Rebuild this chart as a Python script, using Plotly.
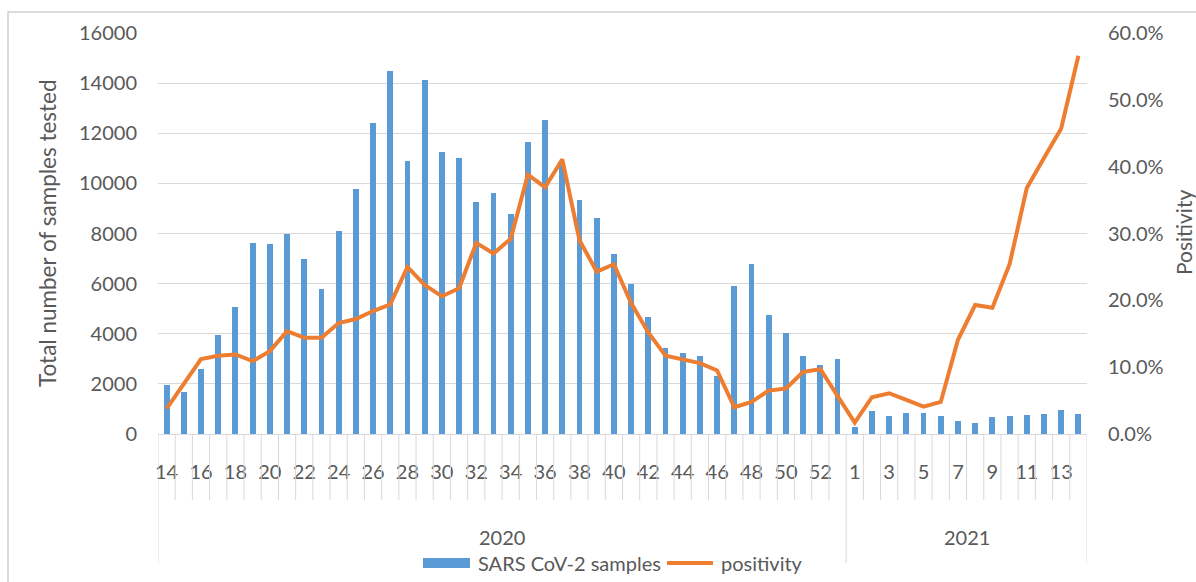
import plotly.graph_objects as go

# ---------------- data ----------------
weeks_2020 = list(range(14, 54))   # weeks 14..53
weeks_2021 = list(range(1, 15))    # weeks 1..14
years = ["2020", "2021"]

samples_2020 = [1950, 1660, 2610, 3940, 5080, 7630, 7580, 8000, 6970, 5790,
                8110, 9770, 12420, 14500, 10900, 14130, 11240, 11000, 9240, 9630,
                8780, 11660, 12520, 10800, 9350, 8630, 7200, 5980, 4650, 3450,
                3230, 3120, 2320, 5920, 6770, 4740, 4020, 3120, 2740, 2990]
samples_2021 = [290, 900, 720, 850, 850, 720, 530, 430, 660, 720,
                760, 810, 950, 810]

positivity_2020 = [3.8, 7.5, 11.2, 11.7, 11.9, 10.9, 12.4, 15.4, 14.4, 14.4,
                   16.6, 17.2, 18.4, 19.4, 25.0, 22.3, 20.6, 21.8, 28.6, 27.0,
                   29.2, 38.8, 36.9, 41.1, 29.0, 24.3, 25.4, 19.6, 15.2, 11.7,
                   11.2, 10.6, 9.5, 4.0, 4.8, 6.5, 6.8, 9.3, 9.7, 5.7]
positivity_2021 = [1.7, 5.5, 6.1, 5.1, 4.1, 4.8, 14.1, 19.3, 18.9, 25.4,
                   36.8, 41.3, 45.7, 56.6]

week_labels = [str(w) for w in weeks_2020] + [str(w) for w in weeks_2021]
samples = samples_2020 + samples_2021
positivity = [p / 100 for p in positivity_2020 + positivity_2021]
xpos = list(range(len(week_labels)))

# ---------------- style ----------------
FONT = "Lato"
TXT = "#595959"
GRID = "#d9d9d9"
BLUE = "#5b9bd5"
ORANGE = "#ed7d31"
FS = 20

W, H = 1196, 582
L, R, T, B = 158, 1087, 33, 434   # plot area in pixels


def px(xp):
    return (xp - L) / (R - L)


def py(yp):
    return (B - yp) / (B - T)


fig = go.Figure()
fig.add_trace(go.Bar(x=xpos, y=samples, name="SARS CoV-2 samples",
                     marker=dict(color=BLUE, line=dict(width=0)), width=0.34,
                     showlegend=False))
fig.add_trace(go.Scatter(x=xpos, y=positivity, name="positivity", yaxis="y2",
                         mode="lines", line=dict(color=ORANGE, width=4),
                         showlegend=False))

# show every other label within each year
tickvals, ticktext = [], []
n2020 = len(weeks_2020)
for i, lab in enumerate(week_labels):
    local = i if i < n2020 else i - n2020
    if local % 2 == 0:
        tickvals.append(i)
        ticktext.append(lab)

shapes = []
n = len(week_labels)
# category separators below the axis
for k in range(n + 1):
    b = k - 0.5
    long = k in (0, n2020, n)
    shapes.append(dict(type="line", xref="x", yref="paper", x0=b, x1=b,
                       y0=0, y1=py(563) if long else py(500),
                       line=dict(color=GRID, width=1)))
# chart border
shapes.append(dict(type="rect", xref="paper", yref="paper",
                   x0=px(8), x1=px(1205), y0=py(600), y1=py(12),
                   line=dict(color="#d0d0d0", width=1.5), fillcolor="rgba(0,0,0,0)"))
# legend swatches
shapes.append(dict(type="rect", xref="paper", yref="paper",
                   x0=px(423), x1=px(470), y0=py(568), y1=py(558),
                   line=dict(width=0), fillcolor=BLUE))
shapes.append(dict(type="line", xref="paper", yref="paper",
                   x0=px(667), x1=px(713), y0=py(563), y1=py(563),
                   line=dict(color=ORANGE, width=4)))

annotations = []
tf = dict(family=FONT, size=FS, color=TXT)
# year labels centred on their groups
groups = [(0, n2020 - 1), (n2020, n - 1)]
for yr, (a, b) in zip(years, groups):
    annotations.append(dict(x=(a + b) / 2, y=py(537), xref="x", yref="paper",
                            xanchor="center", yanchor="middle",
                            text=yr, showarrow=False, font=tf))
annotations.append(dict(x=px(476), y=py(563), xref="paper", yref="paper",
                        text="SARS CoV-2 samples", showarrow=False,
                        xanchor="left", yanchor="middle", font=tf))
annotations.append(dict(x=px(719), y=py(563), xref="paper", yref="paper",
                        text="positivity", showarrow=False,
                        xanchor="left", yanchor="middle", font=tf))
# axis titles
annotations.append(dict(x=px(47), y=py(233), xref="paper", yref="paper",
                        text="Total number of samples tested", showarrow=False,
                        textangle=-90, xanchor="center", yanchor="middle",
                        font=dict(family=FONT, size=22.5, color=TXT)))
annotations.append(dict(x=px(1183), y=py(233), xref="paper", yref="paper",
                        text="Positivity", showarrow=False, textangle=-90,
                        xanchor="center", yanchor="middle",
                        font=dict(family=FONT, size=21, color=TXT)))

fig.update_layout(
    width=W, height=H,
    margin=dict(l=L, r=W - R, t=T, b=H - B, pad=0),
    paper_bgcolor="white", plot_bgcolor="white",
    font=dict(family=FONT, size=FS, color=TXT),
    bargap=0,
    xaxis=dict(range=[-0.5, n - 0.5], tickmode="array", tickvals=tickvals,
               ticktext=ticktext, ticks="", showgrid=False, zeroline=False,
               showline=True, linecolor=GRID, linewidth=1,
               ticklabelstandoff=20, tickfont=tf, fixedrange=True),
    yaxis=dict(range=[0, 16000], dtick=2000, tick0=0, tickformat="d",
               showgrid=True, gridcolor=GRID, gridwidth=1, zeroline=False,
               showline=False, ticks="", ticklabelstandoff=20, tickfont=tf),
    yaxis2=dict(range=[0, 0.6], dtick=0.1, tick0=0, tickformat=".1%",
                overlaying="y", side="right", showgrid=False, zeroline=False,
                showline=False, ticks="", ticklabelstandoff=20, tickfont=tf),
    shapes=shapes,
    annotations=annotations,
    showlegend=False,
)

fig.write_html("out.html")
